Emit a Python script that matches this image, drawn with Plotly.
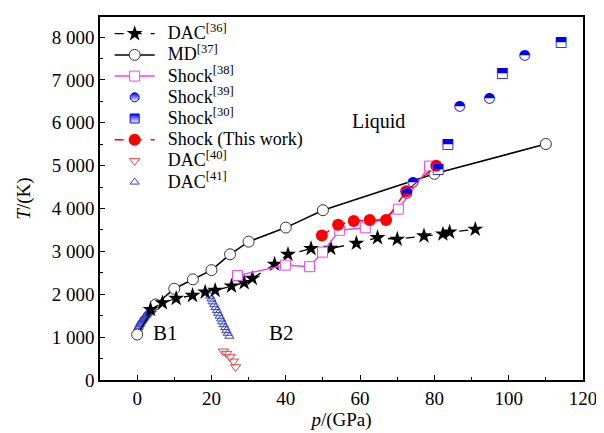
import plotly.graph_objects as go

# ---------------- data ----------------
dac36_p = [3.6, 6.8, 10.5, 14.9, 18.3, 21.0, 25.4, 28.8, 31.0, 37.0, 40.6, 46.8, 52.1, 59.0, 64.7, 70.0, 77.2, 82.3, 84.1, 91.0]
dac36_T = [1645, 1800, 1903, 1973, 2050, 2090, 2190, 2270, 2370, 2700, 2930, 3065, 3070, 3190, 3320, 3283, 3360, 3405, 3450, 3515]

md37_p = [0, 5, 10, 15, 20, 25, 30, 40, 50, 80, 110]
md37_T = [1060, 1762, 2129, 2347, 2563, 2932, 3228, 3556, 3961, 4810, 5505]

shock38_p = [27.0, 39.9, 46.4, 49.9, 54.5, 61.4, 70.3, 78.7]
shock38_T = [2435, 2680, 2643, 2983, 3493, 3550, 3985, 4990]

shock39_p = [72.5, 74.2, 86.8, 94.8, 104.3]
shock39_T = [4360, 4608, 6386, 6573, 7580]

shock30_p = [81.0, 83.6, 98.3, 114.1]
shock30_T = [4920, 5505, 7142, 7883]

this_p = [49.7, 54.1, 58.3, 62.6, 67.0, 72.4, 80.5]
this_T = [3370, 3620, 3711, 3730, 3730, 4405, 4998]

dac40_p = [23.2, 24.1, 25.0, 25.9, 26.5]
dac40_T = [670, 616, 538, 436, 304]

dac41_p = [0.1, 0.3, 0.5, 0.7, 0.9, 1.1, 1.3, 1.5, 1.7, 1.9, 2.1, 2.3, 2.5, 2.7, 2.9, 3.1, 3.3, 3.5, 3.7, 3.9,
           19.6, 20.0, 20.3, 20.7, 21.1, 21.5, 21.8, 22.2, 22.6, 22.9, 23.3, 23.7, 24.0, 24.4, 24.8]
dac41_T = [1180, 1220, 1255, 1290, 1325, 1355, 1385, 1410, 1435, 1460, 1485, 1505, 1525, 1545, 1565, 1585, 1600, 1615, 1630, 1645,
           1957, 1890, 1823, 1756, 1690, 1623, 1556, 1490, 1423, 1356, 1290, 1223, 1156, 1090, 1022]

x_ticks = [0, 20, 40, 60, 80, 100, 120]
y_ticks = [0, 1000, 2000, 3000, 4000, 5000, 6000, 7000, 8000]
y_ticktext = ["0", "1 000", "2 000", "3 000", "4 000", "5 000", "6 000", "7 000", "8 000"]

labels = [("Liquid", 65, 6030, 20), ("B1", 7.6, 1100, 21), ("B2", 38.8, 1100, 21)]

# ---------------- figure ----------------
FONT = "Liberation Serif"
BLUE = "#0000ee"
MAG = "#ee44ee"
RED = "#ff0000"


def lg(s):
    return '<span style="font-size:18px">\u00a0\u2009' + s + '</span>'


fig = go.Figure()

fig.add_trace(go.Scatter(x=dac41_p, y=dac41_T, mode="markers", name=lg("DAC<sup>[41]</sup>"),
                         marker=dict(symbol="triangle-up-open", size=8, color="#3344cc", line=dict(width=1)),
                         legendrank=8))
fig.add_trace(go.Scatter(x=dac40_p, y=dac40_T, mode="markers", name=lg("DAC<sup>[40]</sup>"),
                         marker=dict(symbol="triangle-down-open", size=9, color="#e04040", line=dict(width=1)),
                         legendrank=7))
fig.add_trace(go.Scatter(x=md37_p, y=md37_T, mode="lines+markers", name=lg("MD<sup>[37]</sup>"),
                         line=dict(color="black", width=1.5),
                         marker=dict(symbol="circle", size=11, color="white", line=dict(color="#333333", width=1)),
                         legendrank=2))
fig.add_trace(go.Scatter(x=dac36_p, y=dac36_T, mode="lines+markers", name=lg("DAC<sup>[36]</sup>"),
                         line=dict(color="black", width=1.3, dash="dash"),
                         marker=dict(symbol="star", size=12, color="black"),
                         legendrank=1))
fig.add_trace(go.Scatter(x=shock38_p, y=shock38_T, mode="lines+markers", name=lg("Shock<sup>[38]</sup>"),
                         line=dict(color=MAG, width=1.5),
                         marker=dict(symbol="square", size=10, color="white", line=dict(color=MAG, width=1)),
                         legendrank=3))
# half-filled markers: legend marker trace, white mask, then half-filled glyph on top
fig.add_trace(go.Scatter(x=shock39_p, y=shock39_T, mode="markers", name=lg("Shock<sup>[39]</sup>"),
                         marker=dict(symbol="circle", size=9, color=BLUE, line=dict(color=BLUE, width=1),
                                     gradient=dict(type="vertical", color="white")),
                         legendrank=4))
fig.add_trace(go.Scatter(x=shock30_p, y=shock30_T, mode="markers", name=lg("Shock<sup>[30]</sup>"),
                         marker=dict(symbol="square", size=9, color=BLUE, line=dict(color=BLUE, width=1),
                                     gradient=dict(type="vertical", color="white")),
                         legendrank=5))
fig.add_trace(go.Scatter(x=shock39_p, y=shock39_T, mode="markers", showlegend=False, hoverinfo="skip",
                         marker=dict(symbol="circle", size=9, color="white", line=dict(color="white", width=2))))
fig.add_trace(go.Scatter(x=shock30_p, y=shock30_T, mode="markers", showlegend=False, hoverinfo="skip",
                         marker=dict(symbol="square", size=9, color="white", line=dict(color="white", width=2))))
fig.add_trace(go.Scatter(x=this_p, y=this_T, mode="lines+markers", name=lg("Shock (This work)"),
                         line=dict(color=RED, width=1.5, dash="dash"),
                         marker=dict(symbol="circle", size=12, color=RED),
                         legendrank=6))
fig.add_trace(go.Scatter(x=shock39_p, y=shock39_T, mode="text", text=["\u25D3"] * len(shock39_p),
                         textfont=dict(family="DejaVu Sans", size=14, color=BLUE), showlegend=False,
                         hoverinfo="skip"))
fig.add_trace(go.Scatter(x=shock30_p, y=shock30_T, mode="text", text=["\u2B12"] * len(shock30_p),
                         textfont=dict(family="DejaVu Sans", size=14, color=BLUE), showlegend=False,
                         hoverinfo="skip"))

for txt, px, ty, fs in labels:
    fig.add_annotation(x=px, y=ty, text=txt, showarrow=False,
                       font=dict(family=FONT, size=fs, color="black"))

axis_common = dict(showline=True, linecolor="black", linewidth=1.5, mirror=True,
                   ticks="inside", ticklen=5, tickwidth=1.2, tickcolor="black",
                   showgrid=False, zeroline=False,
                   tickfont=dict(family=FONT, size=19, color="black"))

fig.update_xaxes(range=[-10, 120], tickvals=x_ticks,
                 minor=dict(dtick=10, ticks="inside", ticklen=3, tickwidth=1.2, tickcolor="black", tick0=0),
                 title=dict(text="<i>p</i>/(GPa)", font=dict(family=FONT, size=19, color="black"), standoff=4),
                 **axis_common)
fig.update_yaxes(range=[0, 8468], tickvals=y_ticks, ticktext=y_ticktext,
                 minor=dict(dtick=500, ticks="inside", ticklen=3, tickwidth=1.2, tickcolor="black", tick0=0),
                 title=dict(text="<i>T</i>/(K)", font=dict(family=FONT, size=19, color="black"), standoff=16),
                 **axis_common)

# page body has an 8px margin: figure is sized/margined to land the plot area at the reference position
fig.update_layout(
    width=596, height=425,
    margin=dict(l=92, r=17, t=7, b=48),
    paper_bgcolor="white", plot_bgcolor="white",
    font=dict(family=FONT, color="black"),
    showlegend=True,
    legend=dict(x=0.02, y=0.997, xanchor="left", yanchor="top",
                font=dict(family=FONT, size=14, color="black"),
                bgcolor="rgba(0,0,0,0)", tracegroupgap=0, itemwidth=40,
                traceorder="normal"),
)

fig.write_html("out.html")
